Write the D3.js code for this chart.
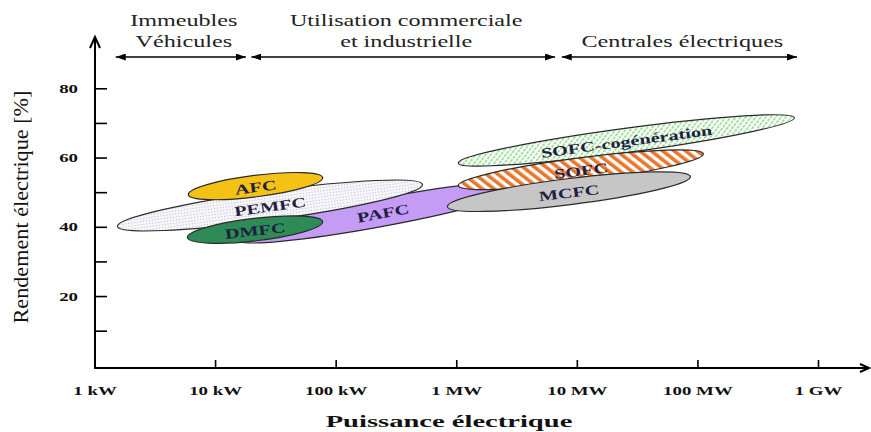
<!DOCTYPE html>
<html><head><meta charset="utf-8">
<script src="https://cdn.jsdelivr.net/npm/d3@7"></script>
<style>body{margin:0;background:#fff}svg{display:block}</style>
</head><body>
<svg id="c" width="871" height="432"></svg>
<script>
// ---- data ----
const sectorLines = [["Immeubles","Véhicules"],["Utilisation commerciale","et industrielle"],["","Centrales électriques"]];
const sectorFrom = [1.5, 20, 7500];      // kW
const sectorTo   = [18, 6600, 670000];   // kW

const cells   = ["PAFC","PEMFC","AFC","DMFC","SOFC-cogénération","SOFC","MCFC"];
const pLow    = [14.8, 1.55, 6.0, 5.9, 1040, 1040, 845];          // kW at left end
const effLow  = [36.3, 40.1, 49.3, 36.9, 58.4, 51.9, 45.8];       // % at left end
const pHigh   = [4100, 525, 78, 78, 637000, 112000, 87500];       // kW at right end
const effHigh = [52.2, 52.2, 54.2, 41.5, 71.5, 61.1, 54.5];       // % at right end
const spread  = [8.1, 8.4, 6.2, 6.5, 7.0, 6.9, 7.5];             // thickness in %

const xTickValues = [1, 10, 100, 1e3, 1e4, 1e5, 1e6];
const xTickLabels = ["1 kW","10 kW","100 kW","1 MW","10 MW","100 MW","1 GW"];
const yTickValues = [10,20,30,40,50,60,70,80];
const yTickLabels = ["","20","","40","","60","","80"];

// ---- setup ----
const svg = d3.select("#c");
const serif = "'Liberation Serif','Times New Roman',serif";
const x = d3.scaleLog().domain([1, 1e6]).range([94.5, 818]);
const y = d3.scaleLinear().domain([0, 80]).range([365.3, 88.3]);
const axisY = 368, axisX = 95;

function stretch(sel, k){
  sel.each(function(){
    const L = this.getComputedTextLength();
    if (L > 0){ this.setAttribute("textLength", L*k); this.setAttribute("lengthAdjust","spacingAndGlyphs"); }
  });
}

const defs = svg.append("defs");
const dots = defs.append("pattern").attr("id","dots").attr("patternUnits","userSpaceOnUse").attr("width",3).attr("height",3);
dots.append("rect").attr("width",3).attr("height",3).attr("fill","#f6f6fa");
dots.append("rect").attr("x",1).attr("y",1).attr("width",1).attr("height",1).attr("fill","#b9b9c6");

const sofc = defs.append("pattern").attr("id","sofc").attr("patternUnits","userSpaceOnUse")
  .attr("width",7).attr("height",7).attr("patternTransform","rotate(-45)");
sofc.append("rect").attr("width",7).attr("height",7).attr("fill","#ffffff");
sofc.append("rect").attr("width",3.6).attr("height",7).attr("fill","#e8772e");

const cog = defs.append("pattern").attr("id","cog").attr("patternUnits","userSpaceOnUse")
  .attr("width",4).attr("height",4).attr("patternTransform","rotate(45)");
cog.append("rect").attr("width",4).attr("height",4).attr("fill","#ffffff");
cog.append("rect").attr("width",1.6).attr("height",3).attr("fill","#8fdc8a");

defs.append("marker").attr("id","ah").attr("viewBox","0 0 10 7").attr("refX",10).attr("refY",3.5)
  .attr("markerWidth",10).attr("markerHeight",7).attr("markerUnits","userSpaceOnUse")
  .attr("orient","auto-start-reverse")
  .append("path").attr("d","M0,0 L10,3.5 L0,7 Z").attr("fill","#000");

const fills = ["#c49cf5","url(#dots)","#f4c214","#2e8b55","url(#cog)","url(#sofc)","#c6c6c6"];

// ---- header arrows ----
const hdr = svg.append("g");
sectorLines.forEach((lines, i) => {
  const x1 = x(sectorFrom[i]), x2 = x(sectorTo[i]);
  hdr.append("line").attr("x1",x1).attr("x2",x2).attr("y1",57).attr("y2",57)
    .attr("stroke","#000").attr("stroke-width",1.5)
    .attr("marker-start","url(#ah)").attr("marker-end","url(#ah)");
  lines.forEach((t, j) => {
    if (!t) return;
    hdr.append("text").attr("x",(x1+x2)/2 + 3).attr("y", 26 + j*21)
      .attr("text-anchor","middle").attr("font-family",serif).attr("font-size",17)
      .attr("fill","#222").text(t);
  });
});
stretch(hdr.selectAll("text"), 1.42);

// ---- ellipses ----
const eg = svg.append("g");
cells.forEach((name, i) => {
  const x1 = x(pLow[i]), y1 = y(effLow[i]), x2 = x(pHigh[i]), y2 = y(effHigh[i]);
  const cx = (x1+x2)/2, cy = (y1+y2)/2;
  const ang = Math.atan2(y2-y1, x2-x1)*180/Math.PI;
  const rx = Math.hypot(x2-x1, y2-y1)/2;
  const ry = Math.abs(y(0) - y(spread[i]))/2;
  const g = eg.append("g").attr("transform",`translate(${cx},${cy}) rotate(${ang})`);
  g.append("ellipse").attr("rx",rx).attr("ry",ry).attr("fill",fills[i])
    .attr("stroke","#2a2a2a").attr("stroke-width",1.2);
  const t = g.append("text").attr("x",0).attr("y",1.5).attr("text-anchor","middle")
    .attr("dominant-baseline","central").attr("font-family",serif).attr("font-weight","bold")
    .attr("font-size",14).attr("fill","#1f2142").text(name);
  stretch(t, 1.45);
});

// ---- axes ----
const xa = svg.append("g").attr("transform",`translate(0,${axisY})`)
  .call(d3.axisBottom(x).tickValues(xTickValues).tickFormat((d,i)=>xTickLabels[i]).tickSize(-8).tickPadding(18));
xa.select(".domain").remove();
xa.selectAll(".tick line").attr("stroke","#000").attr("stroke-width",1.6);
xa.selectAll(".tick text").attr("font-family",serif).attr("font-weight","bold").attr("font-size",13).attr("fill","#111");
stretch(xa.selectAll(".tick text"), 1.45);

const ya = svg.append("g").attr("transform",`translate(${axisX},0)`)
  .call(d3.axisLeft(y).tickValues(yTickValues).tickFormat((d,i)=>yTickLabels[i]).tickSize(-12).tickPadding(17));
ya.select(".domain").remove();
ya.selectAll(".tick line").attr("stroke","#000").attr("stroke-width",1.6);
ya.selectAll(".tick text").attr("font-family",serif).attr("font-weight","bold").attr("font-size",13).attr("fill","#111");
stretch(ya.selectAll(".tick text"), 1.45);

// axis lines with arrow tips
svg.append("path").attr("d",`M${axisX},${axisY} L${axisX},37 M${axisX-5},48 L${axisX},37 L${axisX+5},48`)
  .attr("fill","none").attr("stroke","#000").attr("stroke-width",2);
svg.append("path").attr("d",`M${axisX-1},${axisY} L869,${axisY} M860,${axisY-4} L869,${axisY} L860,${axisY+4}`)
  .attr("fill","none").attr("stroke","#000").attr("stroke-width",2);

// axis titles
const xt = svg.append("text").attr("x",449).attr("y",427).attr("text-anchor","middle")
  .attr("font-family",serif).attr("font-weight","bold").attr("font-size",17).attr("fill","#111")
  .text("Puissance électrique");
stretch(xt, 1.68);
svg.append("text").attr("transform","translate(28,207) rotate(-90)").attr("text-anchor","middle")
  .attr("font-family",serif).attr("font-size",20).attr("fill","#111")
  .attr("textLength",233).attr("lengthAdjust","spacingAndGlyphs")
  .text("Rendement électrique [%]");
</script>
</body></html>
